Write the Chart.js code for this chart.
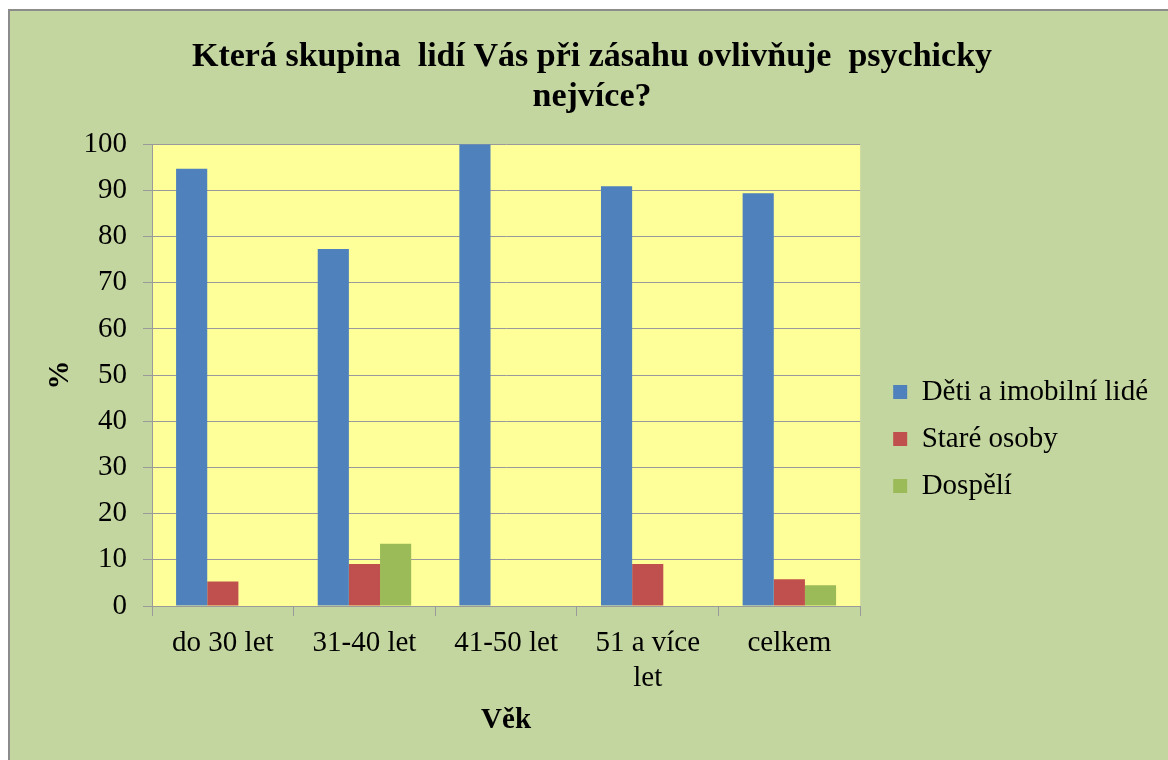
<!DOCTYPE html>
<html>
<head>
<meta charset="utf-8">
<script src="https://cdn.jsdelivr.net/npm/chart.js@4"></script>
<style>
  body { margin: 0; background: #fff; overflow: hidden; width: 1168px; height: 760px; position: relative; }
  #frame { position: absolute; left: 8px; top: 9px; width: 1200px; height: 800px; border: 2px solid #8c8c8c; background: #c4d69f; }
  #wrap { position: absolute; left: 0; top: 0; width: 1158px; height: 760px; }
</style>
</head>
<body>
<div id="frame"></div>
<div id="wrap"><canvas id="bar-chart"></canvas></div>
<script>
var categories = ["do 30 let", "31-40 let", "41-50 let", ["51 a více", "let"], "celkem"];
var detiImobilni = [94.7, 77.3, 100, 90.9, 89.4];
var stareOsoby = [5.3, 9.1, 0, 9.1, 5.8];
var dospeli = [0, 13.5, 0, 0, 4.5];
var yTicks = [0, 10, 20, 30, 40, 50, 60, 70, 80, 90, 100];

var serif = "'Liberation Serif', 'Times New Roman', serif";

// yellow plot background
var plotBg = {
    id: 'plotBg',
    beforeDraw: function(chart) {
        var a = chart.chartArea, ctx = chart.ctx;
        ctx.save();
        ctx.fillStyle = '#ffff99';
        ctx.fillRect(a.left, a.top, a.right - a.left, a.bottom - a.top);
        ctx.restore();
    }
};

new Chart(document.getElementById("bar-chart"), {
    type: 'bar',
    data: {
        labels: categories,
        datasets: [{
            label: "Děti a imobilní lidé",
            data: detiImobilni,
            backgroundColor: '#4f81bd',
        },
        {
            label: "Staré osoby",
            data: stareOsoby,
            backgroundColor: '#c0504d',
        },
        {
            label: "Dospělí",
            data: dospeli,
            backgroundColor: '#9bbb59',
        }]
    },
    options: {
        responsive: true,
        maintainAspectRatio: false,
        animation: false,
        categoryPercentage: 0.66,
        barPercentage: 1,
        layout: { padding: { left: 26, right: 0, top: 0, bottom: 28 } },
        plugins: {
            title: {
                display: true,
                text: ["Která skupina  lidí Vás při zásahu ovlivňuje  psychicky", "nejvíce?"],
                color: '#000',
                font: { family: serif, size: 34, weight: 'bold', lineHeight: 1.18 },
                padding: { top: 37, bottom: 27 }
            },
            legend: {
                position: 'right',
                maxWidth: 400,
                title: { display: true, text: '', font: { size: 10, lineHeight: 1 }, padding: 68 },
                labels: {
                    color: '#000',
                    font: { family: serif, size: 29 },
                    boxWidth: 14,
                    boxHeight: 14,
                    padding: 18
                }
            },
            tooltip: { enabled: false }
        },
        scales: {
            x: {
                grid: { display: true, drawOnChartArea: false, drawTicks: true, tickLength: 10, color: '#9a9a9a', offset: true },
                border: { color: '#9a9a9a' },
                ticks: { color: '#000', font: { family: serif, size: 29 }, padding: 10, maxRotation: 0, autoSkip: false },
                title: { display: true, text: "Věk", color: '#000', font: { family: serif, size: 29, weight: 'bold', lineHeight: 0.8 }, padding: { top: 0, bottom: 0 } },
                afterFit: function(s) { s.height = 126; }
            },
            y: {
                min: 0,
                max: 100,
                afterBuildTicks: function(s) { s.ticks = yTicks.map(function(v) { return { value: v }; }); },
                grid: { color: '#9a9a9a', tickLength: 9 },
                border: { color: '#9a9a9a' },
                ticks: { color: '#000', font: { family: serif, size: 29 }, padding: 16 },
                title: { display: true, text: "%", color: '#000', font: { family: serif, size: 29, weight: 'bold' }, padding: { top: 17, bottom: 0 } },
                afterFit: function(s) { s.width = 126; }
            },
            gap: {
                position: 'right',
                display: true,
                grid: { display: false },
                border: { display: false },
                ticks: { display: false },
                afterFit: function(s) { s.width = 15; }
            }
        }
    },
    plugins: [plotBg]
});
</script>
</body>
</html>
